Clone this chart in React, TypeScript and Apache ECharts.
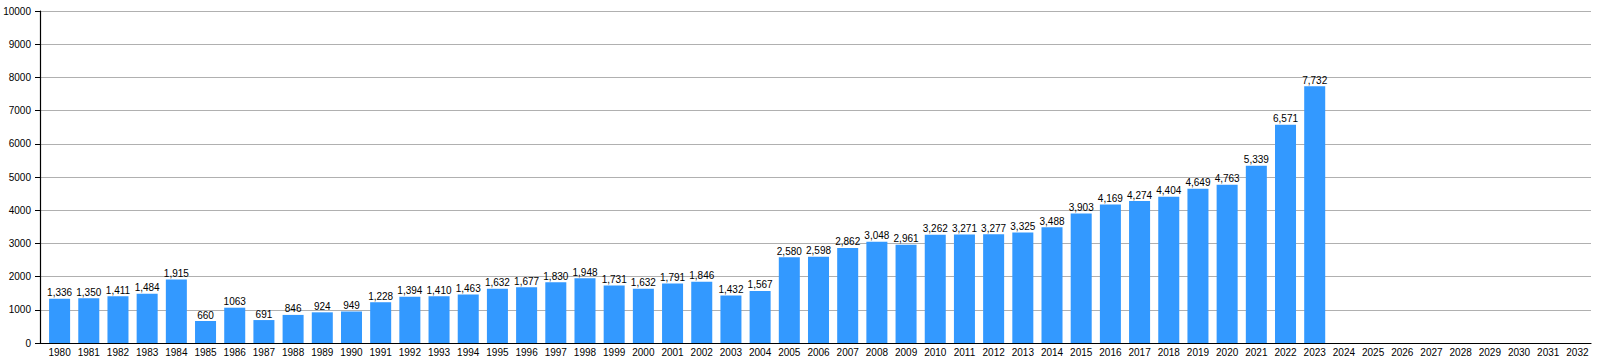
import React, { useEffect, useRef } from "react";
import * as echarts from "echarts";

const years: string[] = [
  "1980","1981","1982","1983","1984","1985","1986","1987","1988","1989",
  "1990","1991","1992","1993","1994","1995","1996","1997","1998","1999",
  "2000","2001","2002","2003","2004","2005","2006","2007","2008","2009",
  "2010","2011","2012","2013","2014","2015","2016","2017","2018","2019",
  "2020","2021","2022","2023","2024","2025","2026","2027","2028","2029",
  "2030","2031","2032",
];

const values: (number | null)[] = [
  1336, 1350, 1411, 1484, 1915, 660, 1063, 691, 846, 924,
  949, 1228, 1394, 1410, 1463, 1632, 1677, 1830, 1948, 1731,
  1632, 1791, 1846, 1432, 1567, 2580, 2598, 2862, 3048, 2961,
  3262, 3271, 3277, 3325, 3488, 3903, 4169, 4274, 4404, 4649,
  4763, 5339, 6571, 7732, null, null, null, null, null, null,
  null, null, null,
];

const valueLabels: string[] = [
  "1,336","1,350","1,411","1,484","1,915","660","1063","691","846","924",
  "949","1,228","1,394","1,410","1,463","1,632","1,677","1,830","1,948","1,731",
  "1,632","1,791","1,846","1,432","1,567","2,580","2,598","2,862","3,048","2,961",
  "3,262","3,271","3,277","3,325","3,488","3,903","4,169","4,274","4,404","4,649",
  "4,763","5,339","6,571","7,732","","","","","","",
  "","","",
];

const yTicks: number[] = [0, 1000, 2000, 3000, 4000, 5000, 6000, 7000, 8000, 9000, 10000];

const FONT = "'Liberation Sans', Arial, Helvetica, sans-serif";

export default function App() {
  const ref = useRef<HTMLDivElement>(null);
  useEffect(() => {
    if (!ref.current) return;
    const chart = echarts.init(ref.current, undefined, { renderer: "svg" });
    const yMin = yTicks[0];
    const yMax = yTicks[yTicks.length - 1];
    chart.setOption({
      animation: false,
      backgroundColor: "#ffffff",
      grid: [
        { left: 40, right: 9, top: 11, bottom: 17, containLabel: false },
        { left: 45, right: 8, top: 11, bottom: 17, containLabel: false },
      ],
      xAxis: [
        {
          type: "category",
          gridIndex: 0,
          data: years,
          axisLine: { lineStyle: { color: "#000", width: 1.2 } },
          axisTick: { show: false },
          axisLabel: { show: false },
        },
        {
          type: "category",
          gridIndex: 1,
          data: years,
          axisLine: { show: false },
          axisTick: { show: false },
          axisLabel: { color: "#000", fontSize: 10, fontFamily: FONT, margin: 4, interval: 0 },
        },
      ],
      yAxis: [
        {
          type: "value",
          gridIndex: 0,
          min: yMin,
          max: yMax,
          interval: 1000,
          axisLine: { show: true, lineStyle: { color: "#000", width: 1.2 } },
          axisTick: { show: true, length: 5, lineStyle: { color: "#000" } },
          axisLabel: {
            color: "#000",
            fontSize: 10,
            fontFamily: FONT,
            margin: 9,
            formatter: (v: number) => String(v),
          },
          splitLine: { show: true, lineStyle: { color: "#b0b0b0", width: 1 } },
        },
        {
          type: "value",
          gridIndex: 1,
          min: yMin,
          max: yMax,
          interval: 1000,
          show: false,
          splitLine: { show: false },
        },
      ],
      series: [
        {
          type: "bar",
          xAxisIndex: 1,
          yAxisIndex: 1,
          data: values,
          barCategoryGap: "28%",
          itemStyle: { color: "#3399ff" },
          label: {
            show: true,
            position: "top",
            distance: 1,
            color: "#000",
            fontSize: 10,
            fontFamily: FONT,
            formatter: (p: any) => valueLabels[p.dataIndex] ?? "",
          },
        },
      ],
    });
    return () => chart.dispose();
  }, []);
  return <div ref={ref} style={{ width: 1600, height: 360, position: "absolute", left: 0, top: 0 }} />;
}
